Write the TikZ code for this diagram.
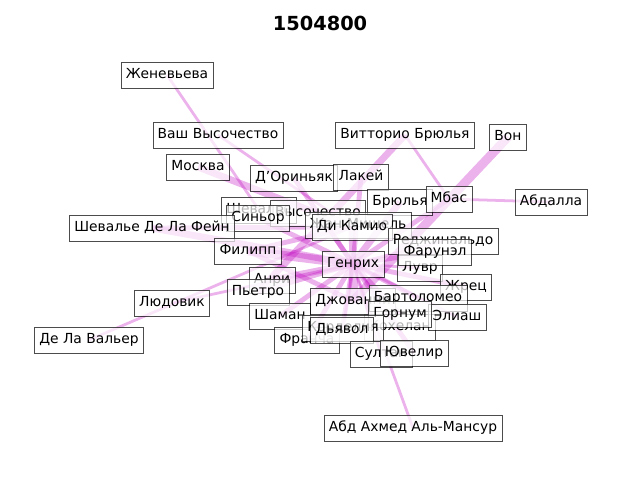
\documentclass[tikz,border=0pt]{standalone}
\usepackage{fontspec}
\setmainfont{DejaVu Sans}
\usetikzlibrary{backgrounds}

\begin{document}
\begin{tikzpicture}[
    x=0.01in, y=-0.01in,
    every node/.style={font=\fontsize{10}{12}\selectfont},
    namebox/.style={draw=black, draw opacity=0.7, fill=white, fill opacity=0.7,
        text opacity=1, inner xsep=3.5pt, inner ysep=0pt,
        minimum height=18.5pt, text height=7.6pt, text depth=2pt},
    linkline/.style={draw={rgb,255:red,191;green,0;blue,191}, draw opacity=0.3},
    w1/.style={linkline, line width=2pt},
    w2/.style={linkline, line width=3.5pt},
    w3/.style={linkline, line width=5pt},
    w4/.style={linkline, line width=6.5pt}
]

    % --- FRAME ---
    \useasboundingbox (0,0) rectangle (640,480);
    \node[font=\fontsize{14}{16}\selectfont\bfseries] (title) at (320,23) {1504800};

    % --- NAMES (lower ones first) ---
    \node[namebox] (zhenevieva) at (167,75) {Женевьева};
    \node[namebox] (vash)       at (218,135) {Ваш Высочество};
    \node[namebox] (vittorio)   at (405,135) {Витторио Брюлья};
    \node[namebox] (von)        at (508,137) {Вон};
    \node[namebox] (moskva)     at (198,167) {Москва};
    \node[namebox] (dorinyak)   at (294,178) {Д’Ориньяк};
    \node[namebox] (lakey)      at (361,177) {Лакей};
    \node[namebox] (abdalla)    at (551,202) {Абдалла};
    \node[namebox] (bryulya)    at (400,202) {Брюлья};
    \node[namebox] (mbas)       at (449,199) {Мбас};
    \node[namebox] (shevalye)   at (259,210) {Шевалье};
    \node[namebox] (vysoch)     at (318,213) {Высочество};
    \node[namebox] (signor)     at (258,218) {Синьор};
    \node[namebox] (feyn)       at (152,228) {Шевалье Де Ла Фейн};
    \node[namebox] (zhanmishel) at (358,225) {Жан-Мишель};
    \node[namebox] (dikamio)    at (352,227) {Ди Камио};
    \node[namebox] (redzhi)     at (443,241) {Реджинальдо};
    \node[namebox] (filipp)     at (248,251) {Филипп};
    \node[namebox] (luvr)       at (420,268) {Лувр};
    \node[namebox] (farunel)    at (435,252) {Фарунэл};
    \node[namebox] (genrikh)    at (353,264) {Генрих};
    \node[namebox] (anri)       at (272,280) {Анри};
    \node[namebox] (zhrets)     at (466,287) {Жрец};
    \node[namebox] (pietro)     at (258,292) {Пьетро};
    \node[namebox] (lyudovik)   at (172,303) {Людовик};
    \node[namebox] (dzhovanni)  at (353,301) {Джованни};
    \node[namebox] (bartolomeo) at (418,298) {Бартоломео};
    \node[namebox] (shaman)     at (280,316) {Шаман};
    \node[namebox] (kohelan)    at (400,327) {Кохелан};
    \node[namebox] (eliash)     at (457,317) {Элиаш};
    \node[namebox] (gornum)     at (400,314) {Горнум};
    \node[namebox] (valyer)     at (89,340) {Де Ла Вальер};
    \node[namebox] (francha)    at (307,340) {Франча};
    \node[namebox] (kordeliya)  at (343,328) {Корделия};
    \node[namebox] (dyavol)     at (342,330) {Дьявол};
    \node[namebox] (sultan)     at (381,354) {Султан};
    \node[namebox] (yuvelir)    at (414,353) {Ювелир};
    \node[namebox] (mansur)     at (413,428) {Абд Ахмед Аль-Мансур};

    % --- LINKS ---
    \begin{scope}[on background layer]
        % Генрих and the rest
        \foreach \n/\w in {dorinyak/w2, lakey/w2, bryulya/w3, mbas/w2,
            dikamio/w3, vysoch/w2, signor/w2, feyn/w3, filipp/w4, anri/w3,
            pietro/w2, lyudovik/w1, dzhovanni/w4, shaman/w2, francha/w2,
            dyavol/w2, sultan/w1, yuvelir/w2, gornum/w2, eliash/w1,
            bartolomeo/w2, zhrets/w2, luvr/w1, farunel/w2, redzhi/w1,
            mansur/w1, kohelan/w1, kordeliya/w1}
            \draw[\w] (genrikh.center) -- (\n.center);

        % other pairs
        \draw[w1] (zhenevieva.center) -- (shevalye.center);
        \draw[w1] (vash.center) -- (dikamio.center);
        \draw[w3] (moskva.center) -- (dikamio.center);
        \draw[w3] (vittorio.center) -- (pietro.center);
        \draw[w1] (vittorio.center) -- (mbas.center);
        \draw[w4] (von.center) -- (dzhovanni.center);
        \draw[w1] (abdalla.center) -- (mbas.center);
        \draw[w1] (valyer.center) -- (dikamio.center);
        \draw[w2] (filipp.center) -- (dikamio.center);
        \draw[w2] (feyn.center) -- (dikamio.center);
        \draw[w2] (filipp.center) -- (dzhovanni.center);
    \end{scope}

\end{tikzpicture}
\end{document}
